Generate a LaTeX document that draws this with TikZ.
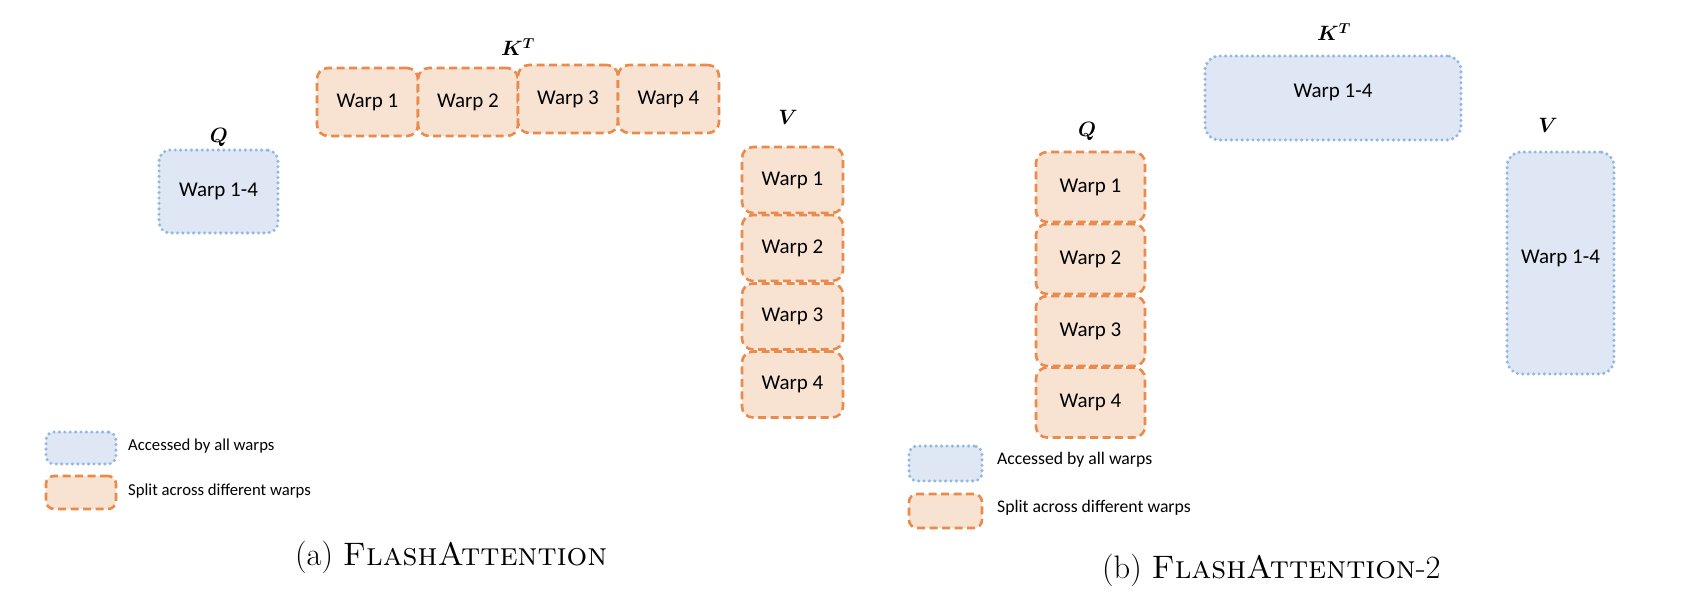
\documentclass[tikz,border=0pt]{standalone}
\usepackage{fontspec}
\usepackage{bm}
\newfontfamily\calibri{Carlito}

\definecolor{splitfill}{HTML}{F8E3D3}
\definecolor{splitline}{HTML}{E98B4C}
\definecolor{sharedfill}{HTML}{DEE7F3}
\definecolor{sharedline}{HTML}{90B8E2}

\tikzset{
  box/.style={rectangle, rounded corners=11pt, inner sep=0pt, text=black,
    font=\calibri\fontsize{21}{24}\selectfont},
  splitbox/.style={box, fill=splitfill, draw=splitline, line width=2.6pt,
    dash pattern=on 8pt off 4.5pt},
  sharedbox/.style={box, fill=sharedfill, draw=sharedline, line width=3.4pt,
    line cap=round, dash pattern=on 0pt off 5.4pt},
  mlabel/.style={inner sep=0pt, font=\fontsize{20}{24}\selectfont},
  legtext/.style={anchor=west, inner sep=0pt, text=black},
  captext/.style={anchor=base west, inner sep=0pt, font=\fontsize{32.5}{38}\selectfont},
}

\begin{document}
\begin{tikzpicture}[x=1pt, y=-1pt]
\useasboundingbox (0,0) rectangle (1701,605);

% ---------- (a) FlashAttention ----------
\node[sharedbox, minimum width=119pt, minimum height=83pt] (qa) at (218.5,191.5) {Warp 1-4};
\node[mlabel] (qalbl) at (219,137) {$\bm{Q}$};

\node[splitbox, minimum width=101pt, minimum height=68pt] (ka1) at (367.5,102) {Warp 1};
\node[splitbox, minimum width=100pt, minimum height=68pt] (ka2) at (468,102) {Warp 2};
\node[splitbox, minimum width=100pt, minimum height=68pt] (ka3) at (568,99) {Warp 3};
\node[splitbox, minimum width=101pt, minimum height=68pt] (ka4) at (668.5,99) {Warp 4};
\node[mlabel] (kalbl) at (518,47) {$\bm{K}^{\bm{T}}$};

\node[splitbox, minimum width=101pt, minimum height=66pt] (va1) at (792.5,180) {Warp 1};
\node[splitbox, minimum width=101pt, minimum height=66pt] (va2) at (792.5,248) {Warp 2};
\node[splitbox, minimum width=101pt, minimum height=66pt] (va3) at (792.5,316.5) {Warp 3};
\node[splitbox, minimum width=101pt, minimum height=66pt] (va4) at (792.5,384.5) {Warp 4};
\node[mlabel] (valbl) at (788,117) {$\bm{V}$};

\node[sharedbox, rounded corners=8pt, minimum width=70pt, minimum height=32pt] (lega1) at (81,448) {};
\node[legtext, font=\calibri\fontsize{16.7}{20}\selectfont] (lega1t) at (128,446) {Accessed by all warps};
\node[splitbox, rounded corners=8pt, minimum width=70pt, minimum height=33pt] (lega2) at (81,492.5) {};
\node[legtext, font=\calibri\fontsize{16.7}{20}\selectfont] (lega2t) at (128,491) {Split across different warps};

\node[captext] (capa) at (295,565) {(a) \textsc{FlashAttention}};

% ---------- (b) FlashAttention-2 ----------
\node[splitbox, minimum width=109pt, minimum height=70pt] (qb1) at (1090.5,187) {Warp 1};
\node[splitbox, minimum width=109pt, minimum height=70pt] (qb2) at (1090.5,259) {Warp 2};
\node[splitbox, minimum width=109pt, minimum height=70pt] (qb3) at (1090.5,331) {Warp 3};
\node[splitbox, minimum width=109pt, minimum height=70pt] (qb4) at (1090.5,402.5) {Warp 4};
\node[mlabel] (qblbl) at (1087,131) {$\bm{Q}$};

\node[sharedbox, rounded corners=14pt, minimum width=256pt, minimum height=84pt,
      label={[box, yshift=6pt]center:Warp 1-4}] (kb) at (1333,98) {};
\node[mlabel] (kblbl) at (1334,32) {$\bm{K}^{\bm{T}}$};

\node[sharedbox, rounded corners=14pt, minimum width=107pt, minimum height=222pt,
      label={[box, yshift=5pt]center:Warp 1-4}] (vb) at (1560.5,263) {};
\node[mlabel] (vblbl) at (1548,125) {$\bm{V}$};

\node[sharedbox, rounded corners=8pt, minimum width=73pt, minimum height=35pt] (legb1) at (945.5,463.5) {};
\node[legtext, font=\calibri\fontsize{17.7}{21}\selectfont] (legb1t) at (997,460) {Accessed by all warps};
\node[splitbox, rounded corners=8pt, minimum width=73pt, minimum height=34pt] (legb2) at (945.5,511) {};
\node[legtext, font=\calibri\fontsize{17.7}{21}\selectfont] (legb2t) at (997,508) {Split across different warps};

\node[captext] (capb) at (1102,578) {(b) \textsc{FlashAttention}-2};
\end{tikzpicture}
\end{document}
